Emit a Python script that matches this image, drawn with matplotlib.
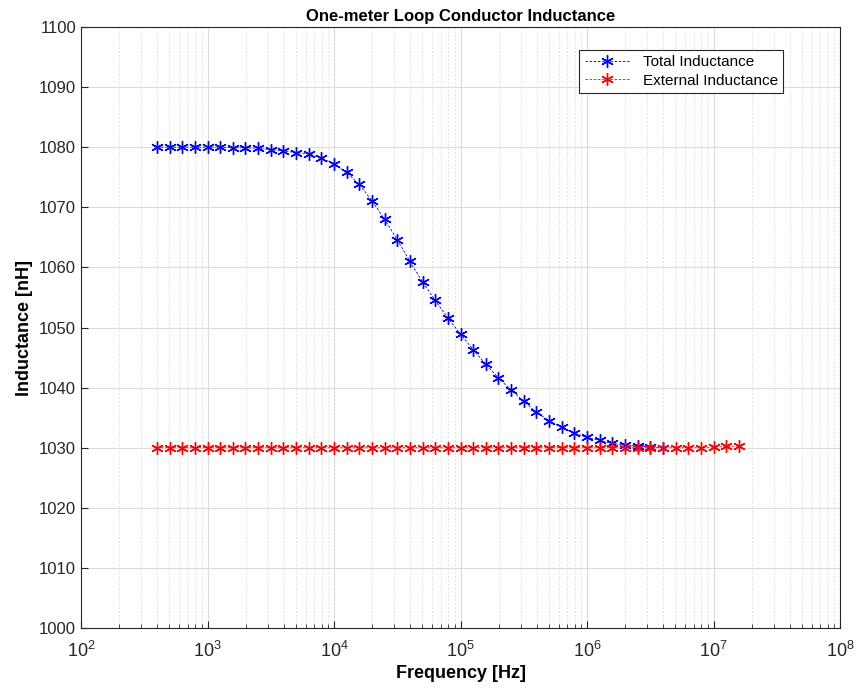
import numpy as np
import matplotlib.pyplot as plt
from matplotlib.ticker import LogLocator, NullFormatter

plt.rcParams['font.family'] = ['Liberation Sans', 'DejaVu Sans']

# log10 of frequency for each sample (0.1 decade steps)
log_f_total = [2.6, 2.7, 2.8, 2.9, 3.0, 3.1, 3.2, 3.3, 3.4, 3.5, 3.6, 3.7, 3.8, 3.9,
               4.0, 4.1, 4.2, 4.3, 4.4, 4.5, 4.6, 4.7, 4.8, 4.9, 5.0, 5.1, 5.2, 5.3,
               5.4, 5.5, 5.6, 5.7, 5.8, 5.9, 6.0, 6.1, 6.2, 6.3, 6.4, 6.5, 6.6]
total_L = [1080.0, 1080.0, 1080.0, 1080.0, 1080.0, 1080.0, 1079.9, 1079.9, 1079.8, 1079.6,
           1079.4, 1079.1, 1078.9, 1078.2, 1077.2, 1075.8, 1073.8, 1071.1, 1068.0, 1064.6,
           1061.0, 1057.6, 1054.5, 1051.6, 1048.9, 1046.3, 1043.9, 1041.6, 1039.6, 1037.7,
           1035.9, 1034.5, 1033.4, 1032.4, 1031.7, 1031.2, 1030.7, 1030.5, 1030.3, 1030.1,
           1030.0]

log_f_ext = [2.6, 2.7, 2.8, 2.9, 3.0, 3.1, 3.2, 3.3, 3.4, 3.5, 3.6, 3.7, 3.8, 3.9,
             4.0, 4.1, 4.2, 4.3, 4.4, 4.5, 4.6, 4.7, 4.8, 4.9, 5.0, 5.1, 5.2, 5.3,
             5.4, 5.5, 5.6, 5.7, 5.8, 5.9, 6.0, 6.1, 6.2, 6.3, 6.4, 6.5, 6.6, 6.7,
             6.8, 6.9, 7.0, 7.1, 7.2]
ext_L = [1030.0] * 44 + [1030.1, 1030.2, 1030.3]

f_total = 10 ** np.array(log_f_total)
f_ext = 10 ** np.array(log_f_ext)

fig = plt.figure(figsize=(8.56, 6.9), dpi=100)
ax = fig.add_axes([81 / 856, 1 - 628 / 690, 759 / 856, 601 / 690])

asterisk = (6, 2, 0)
ax.semilogx(f_total, total_L, color='blue', lw=0.6, ls=(0, (3, 2)), marker=asterisk,
            markersize=9, markeredgewidth=1.0, label='Total Inductance')
ax.semilogx(f_ext, ext_L, color='red', lw=0.6, ls=(0, (3, 2)), marker=asterisk,
            markersize=9, markeredgewidth=1.0, label='External Inductance')

ax.set_xlim(1e2, 1e8)
ax.set_ylim(1000, 1100)
ax.set_yticks(np.arange(1000, 1101, 10))
ax.xaxis.set_major_locator(LogLocator(base=10, numticks=10))
ax.xaxis.set_minor_locator(LogLocator(base=10, subs=np.arange(2, 10), numticks=20))
ax.xaxis.set_minor_formatter(NullFormatter())

ax.grid(True, which='major', color='#dcdcdc', lw=0.8)
ax.grid(True, which='minor', axis='x', color='#e2e2e2', lw=0.7, ls=(0, (2, 2)))
ax.tick_params(which='both', direction='in', labelsize=12, colors='#262626')
ax.tick_params(which='major', length=5)
ax.tick_params(which='minor', length=3)
ax.tick_params(axis='x', which='major', pad=9, labelsize=13)
for s in ax.spines.values():
    s.set_color('#262626')
    s.set_linewidth(0.8)

ax.set_title('One-meter Loop Conductor Inductance', fontsize=12, fontweight='bold', pad=4)
ax.set_xlabel('Frequency [Hz]', fontsize=13, fontweight='bold', labelpad=3)
ax.set_ylabel('Inductance [nH]', fontsize=13, fontweight='bold')

leg = ax.legend(loc='upper right', bbox_to_anchor=(0.925, 0.962), borderaxespad=0,
                fontsize=11, fancybox=False, framealpha=1, edgecolor='#262626',
                borderpad=0.35, handlelength=3.0, labelspacing=0.3)
leg.get_frame().set_linewidth(0.8)

fig.savefig('out.png', dpi=100)
